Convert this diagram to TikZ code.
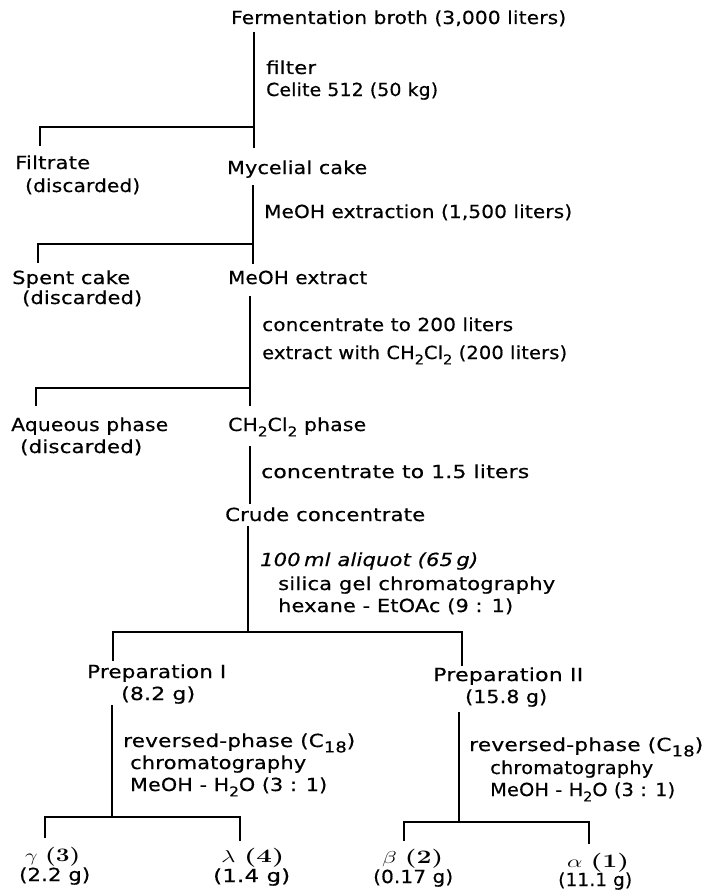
\documentclass[tikz,border=0pt]{standalone}
\usepackage{fontspec}
\usepackage{graphicx}
\newfontfamily\tf{DejaVu Sans}[LetterSpace=1,FakeBold=0.5]
\newcommand\fitw[2]{\resizebox{#1pt}{\height}{#2}}
\newcommand\lowr[1]{\raisebox{-0.3em}{\fontsize{13.5}{13.5}\selectfont #1}}
\newcommand\lowrb[1]{\raisebox{-0.3em}{\fontsize{15}{15}\selectfont #1}}
\newcommand\bnum[1]{{\rmfamily\bfseries(#1)}}
\begin{document}
\begin{tikzpicture}[x=1pt,y=-1pt,
  txt/.style={anchor=base west,inner sep=0pt,font=\tf\fontsize{18}{20}\selectfont},
  grk/.style={anchor=base west,inner sep=0pt,font=\fontsize{19}{21}\selectfont},
  ln/.style={line width=1.3pt,line cap=rect}]
\fill[white] (0,0) rectangle (705,891);
\useasboundingbox (0,0) rectangle (705,891);
% texts
\node[txt] (broth) at (231,24) {\fitw{335}{Fermentation broth (3,000 liters)}};
\node[txt] (filt) at (266,74) {\fitw{50}{filter}};
\node[txt] (celite) at (266,96) {\fitw{172}{Celite 512 (50 kg)}};
\node[txt] (filtrate) at (15,169) {\fitw{75}{Filtrate}};
\node[txt] (disc1) at (25,192) {\fitw{115}{(discarded)}};
\node[txt] (myc) at (227,174) {\fitw{140}{Mycelial cake}};
\node[txt] (meoh1) at (264,218) {\fitw{308}{MeOH extraction (1,500 liters)}};
\node[txt] (spent) at (12,284) {\fitw{118}{Spent cake}};
\node[txt] (disc2) at (22,304) {\fitw{120}{(discarded)}};
\node[txt] (meohext) at (228,284) {\fitw{139}{MeOH extract}};
\node[txt] (conc200) at (262,331) {\fitw{251}{concentrate to 200 liters}};
\node[txt] (extr) at (262,359) {\fitw{305}{extract with CH\lowr{2}Cl\lowr{2} (200 liters)}};
\node[txt] (aq) at (11,431) {\fitw{157}{Aqueous phase}};
\node[txt] (disc3) at (20,453) {\fitw{122}{(discarded)}};
\node[txt] (ch2) at (228,431) {\fitw{138}{CH\lowr{2}Cl\lowr{2} phase}};
\node[txt] (conc15) at (261,478) {\fitw{268}{concentrate to 1.5 liters}};
\node[txt] (crude) at (225,521) {\fitw{200}{Crude concentrate}};
\node[txt] (aliq) at (260,566) {\fitw{218}{\itshape 100\,ml aliquot (65\,g)}};
\node[txt] (silica) at (278,590) {\fitw{277}{silica gel chromatography}};
\node[txt] (hex) at (278,612) {\fitw{235}{hexane - EtOAc (9 : 1)}};
\node[txt] (prep1) at (87,678) {\fitw{139}{Preparation I}};
\node[txt] (g82) at (121,700) {\fitw{74}{(8.2 g)}};
\node[txt] (prep2) at (433,681) {\fitw{150}{Preparation II}};
\node[txt] (g158) at (465,703) {\fitw{82}{(15.8 g)}};
\node[txt] (rpL) at (123,747) {\fitw{232}{reversed-phase (C\lowrb{18})}};
\node[txt] (chL) at (130,769) {\fitw{176}{chromatography}};
\node[txt] (mhL) at (130,791) {\fitw{197}{MeOH - H\lowr{2}O (3 : 1)}};
\node[txt] (rpR) at (469,751) {\fitw{234}{reversed-phase (C\lowrb{18})}};
\node[txt] (chR) at (490,774) {\fitw{163}{chromatography}};
\node[txt] (mhR) at (490,796) {\fitw{185}{MeOH - H\lowr{2}O (3 : 1)}};
\node[grk] (gam) at (25,861) {\fitw{55}{$\gamma$ \bnum{3}}};
\node[txt] (g22) at (19,881) {\fitw{71}{(2.2 g)}};
\node[grk] (lam) at (221,862) {\fitw{63}{$\lambda$\ \bnum{4}}};
\node[txt] (g14) at (213,882) {\fitw{77}{(1.4 g)}};
\node[grk] (bet) at (382,863) {\fitw{61}{$\beta$\ \bnum{2}}};
\node[txt] (g017) at (373,883) {\fitw{80}{(0.17 g)}};
\node[grk] (alp) at (567,867) {\fitw{62}{$\alpha$\ \bnum{1}}};
\node[txt] (g111) at (558,886) {\fitw{74}{(11.1 g)}};
% connector points
\coordinate (a1) at (254,33);  \coordinate (a2) at (254,147);
\coordinate (j1) at (254,127); \coordinate (k1) at (40,127); \coordinate (k1e) at (40,145);
\coordinate (b1) at (253,186); \coordinate (b2) at (253,263);
\coordinate (j2) at (253,244); \coordinate (k2) at (38,244); \coordinate (k2e) at (38,262);
\coordinate (c1) at (250,297); \coordinate (c2) at (250,405);
\coordinate (j3) at (250,388); \coordinate (k3) at (36,388); \coordinate (k3e) at (36,405);
\coordinate (d1) at (250,447); \coordinate (d2) at (250,503);
\coordinate (e1) at (248,527); \coordinate (j4) at (248,632);
\coordinate (p1t) at (113,632); \coordinate (p1e) at (113,660);
\coordinate (p2t) at (462,632); \coordinate (p2e) at (462,665);
\coordinate (f1) at (112,706); \coordinate (j5) at (112,817);
\coordinate (gt) at (45,817); \coordinate (ge) at (45,837);
\coordinate (lt) at (240,817); \coordinate (le) at (240,840);
\coordinate (h1) at (459,713); \coordinate (j6) at (459,822);
\coordinate (bt) at (404,822); \coordinate (be) at (404,840);
\coordinate (at) at (589,822); \coordinate (ae) at (589,843);
% lines
\draw[ln] (a1) -- (a2);
\draw[ln] (k1e) -- (k1) -- (j1);
\draw[ln] (b1) -- (b2);
\draw[ln] (k2e) -- (k2) -- (j2);
\draw[ln] (c1) -- (c2);
\draw[ln] (k3e) -- (k3) -- (j3);
\draw[ln] (d1) -- (d2);
\draw[ln] (e1) -- (j4);
\draw[ln] (p1e) -- (p1t) -- (p2t) -- (p2e);
\draw[ln] (f1) -- (j5);
\draw[ln] (ge) -- (gt) -- (lt) -- (le);
\draw[ln] (h1) -- (j6);
\draw[ln] (be) -- (bt) -- (at) -- (ae);
\end{tikzpicture}
\end{document}
